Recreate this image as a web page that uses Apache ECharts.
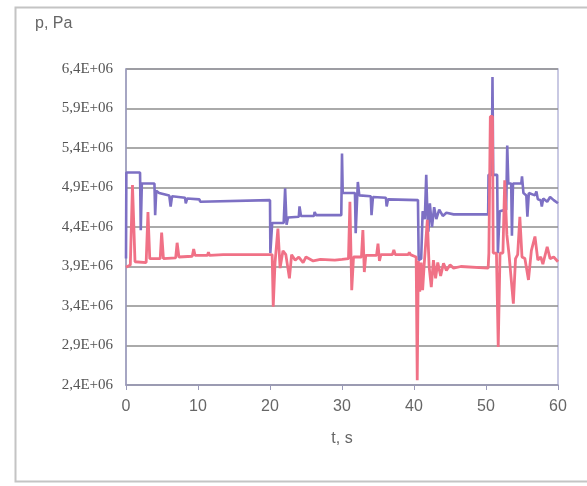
<!DOCTYPE html>
<html>
<head>
<meta charset="utf-8">
<script src="https://cdn.jsdelivr.net/npm/echarts@6/dist/echarts.min.js"></script>
<style>
  html, body { margin: 0; padding: 0; background: #fff; }
  #chart { width: 587px; height: 486px; }
</style>
</head>
<body>
<div id="chart"></div>
<script>
// time, s  /  pressure in units of 1E+06 Pa
const tPurple = [0, 0.05, 1.95, 2.05, 2.2, 3.95, 4.05, 4.2, 4.6, 6.0, 6.2, 6.4, 8.2, 8.3, 8.5, 10.2, 10.3, 10.5,
    20.0, 20.05, 20.3, 21.9, 22.1, 22.3, 22.5, 24.0, 24.1, 24.3, 26.1, 26.2, 26.4, 29.9,
    30.0, 30.1, 31.8, 31.9, 32.2, 32.4, 34.0, 34.1, 34.3, 36.1, 36.2, 36.4, 40.55,
    40.65, 41.0, 41.2, 41.5, 41.7, 41.85, 42.0, 42.2, 42.5, 42.8, 43.1, 43.5, 44.0, 44.5, 45.5, 50.3,
    50.35, 50.8, 50.9, 51.0, 51.55, 51.65, 51.9, 52.8, 52.95, 53.1, 53.5, 53.6, 53.75, 54.9, 55.0,
    55.2, 55.6, 55.75, 55.95, 56.8, 57.0, 57.2, 57.6, 57.75, 57.95, 58.5, 58.9, 59.4, 60.0];
const pPurple = [4.00, 5.09, 5.09, 4.36, 4.95, 4.95, 4.55, 4.86, 4.83, 4.80, 4.66, 4.79, 4.77, 4.70, 4.76, 4.75, 4.72, 4.74,
    4.74, 4.07, 4.45, 4.45, 4.89, 4.43, 4.52, 4.53, 4.66, 4.54, 4.54, 4.59, 4.55, 4.55,
    5.33, 4.83, 4.83, 4.32, 4.97, 4.80, 4.79, 4.55, 4.78, 4.77, 4.66, 4.75, 4.74,
    3.98, 4.00, 4.60, 4.50, 5.06, 4.60, 4.34, 4.70, 4.40, 4.65, 4.50, 4.62, 4.54, 4.58, 4.56, 4.56,
    5.06, 5.06, 6.30, 5.06, 5.06, 4.07, 4.60, 4.62, 5.43, 4.95, 4.95, 4.29, 4.95, 4.95, 5.04,
    4.83, 4.80, 4.53, 4.83, 4.80, 4.85, 4.75, 4.74, 4.66, 4.76, 4.72, 4.78, 4.74, 4.70];

const tRed = [0, 0.6, 0.9, 1.25, 2.8, 3.05, 3.3, 4.75, 4.95, 5.2, 6.9, 7.1, 7.35, 9.2, 9.4, 9.6, 11.3, 11.45, 11.6,
    13.5, 13.65, 13.8, 20.3, 20.45, 20.7, 21.1, 21.4, 21.8, 22.2, 22.7, 23.0, 23.5, 24.0, 24.6, 25.0, 26.0, 27.0, 29.0,
    30.0, 30.9, 31.1, 31.35, 31.6, 32.7, 32.9, 33.1, 33.3, 34.8, 35.0, 35.2, 35.4, 37.0, 37.2, 37.4, 39.2, 39.35, 39.5,
    40.3, 40.45, 40.6, 40.8, 41.0, 41.2, 41.4, 41.85, 42.1, 42.4, 42.7, 43.0, 43.3, 43.7, 44.1, 44.5, 45.0, 45.5, 46.5,
    50.3, 50.4, 50.6, 50.9, 51.0, 51.45, 51.7, 51.95, 52.35, 52.6, 52.9, 53.2, 53.8, 54.1, 54.4, 54.7, 55.0, 55.4,
    55.9, 56.3, 56.8, 57.2, 57.6, 57.9, 58.5, 58.9, 59.4, 60.0];
const pRed = [3.89, 3.92, 4.93, 3.96, 3.95, 4.59, 4.00, 4.00, 4.33, 4.00, 4.01, 4.20, 4.02, 4.03, 4.12, 4.04, 4.04, 4.08, 4.04,
    4.05, 4.07, 4.05, 4.05, 3.39, 3.95, 4.38, 3.88, 4.10, 4.05, 3.75, 4.05, 3.98, 4.02, 3.95, 4.02, 3.97, 3.99, 3.98,
    3.99, 4.00, 4.72, 3.60, 4.02, 4.02, 4.36, 3.83, 4.04, 4.04, 4.19, 3.97, 4.05, 4.05, 4.11, 4.05, 4.05, 4.08, 4.05,
    4.02, 2.46, 3.97, 3.58, 3.95, 3.60, 3.90, 4.49, 3.90, 3.64, 3.98, 3.75, 3.95, 3.78, 3.94, 3.85, 3.92, 3.88, 3.90,
    3.88, 4.07, 5.80, 5.80, 4.07, 4.07, 2.88, 4.07, 4.07, 4.99, 4.30, 4.05, 3.43, 4.00, 4.05, 4.53, 4.02, 4.00,
    3.73, 4.10, 4.28, 3.98, 4.02, 3.93, 4.15, 4.00, 4.02, 3.96];

const xTicks = { min: 0, max: 60, step: 10 };
const yTicks = { min: 2.4, max: 6.4, step: 0.5 };

function pairs(t, p) {
    return t.map((v, i) => [v, p[i]]);
}

document.addEventListener('DOMContentLoaded', () => {
    const chart = echarts.init(document.getElementById('chart'));

    const option = {
        animation: false,
        backgroundColor: '#fff',
        grid: {
            left: 126, right: 29, top: 69, bottom: 101,
            show: true, borderColor: '#b8b8da', borderWidth: 1.5
        },
        graphic: [
            {
                type: 'rect', left: 13, top: 5,
                shape: { width: 620, height: 474 },
                style: { fill: 'none', stroke: '#c4c4c4', lineWidth: 2 }
            },
            {
                type: 'text', left: 35, top: 16,
                style: { text: 'p, Pa', fill: '#666', font: '16px "Liberation Sans", Arial, sans-serif' }
            }
        ],
        xAxis: {
            type: 'value',
            min: xTicks.min, max: xTicks.max, interval: xTicks.step,
            name: 't, s', nameLocation: 'middle', nameGap: 46,
            nameTextStyle: { color: '#666', fontSize: 16, fontFamily: '"Liberation Sans", Arial, sans-serif' },
            axisLine: { show: true, lineStyle: { color: '#9a9ab8', width: 1.5 } },
            axisTick: { show: true, length: 5, lineStyle: { color: '#9a9ab8' } },
            axisLabel: { color: '#666', fontSize: 16, margin: 14, fontFamily: '"Liberation Sans", Arial, sans-serif' },
            splitLine: { show: false }
        },
        yAxis: {
            type: 'value',
            min: yTicks.min, max: yTicks.max, interval: yTicks.step,
            axisLine: { show: true, lineStyle: { color: '#9a9ab8', width: 1.5 } },
            axisTick: { show: false },
            axisLabel: {
                color: '#555', fontSize: 15, margin: 13,
                fontFamily: '"Liberation Serif", "Times New Roman", serif',
                formatter: (v) => v.toFixed(1).replace('.', ',') + 'E+06'
            },
            splitLine: { show: true, lineStyle: { color: '#8e8e8e', width: 1.5 } }
        },
        series: [
            {
                type: 'line',
                data: pairs(tPurple, pPurple),
                showSymbol: false,
                lineStyle: { color: '#7d70c4', width: 2.6 },
                z: 3
            },
            {
                type: 'line',
                data: pairs(tRed, pRed),
                showSymbol: false,
                lineStyle: { color: '#f07186', width: 2.8 },
                z: 4
            }
        ]
    };

    chart.setOption(option);
});
</script>
</body>
</html>
